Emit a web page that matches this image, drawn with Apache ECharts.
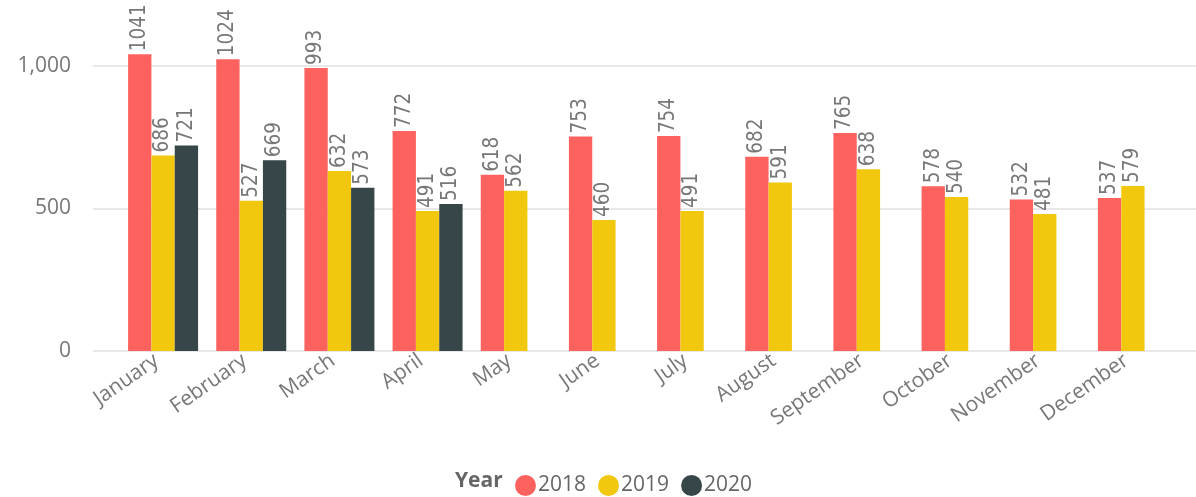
<!DOCTYPE html>
<html>
<head>
<meta charset="utf-8">
<script src="https://cdn.jsdelivr.net/npm/echarts@6/dist/echarts.min.js"></script>
<style>html,body{margin:0;padding:0;background:#fff;}#c{width:1196px;height:497px;}</style>
</head>
<body>
<div id="c"></div>
<script>
const categories = ['January','February','March','April','May','June','July','August','September','October','November','December'];
const years = ['2018','2019','2020'];
const values2018 = [1041,1024,993,772,618,753,754,682,765,578,532,537];
const values2019 = [686,527,632,491,562,460,491,591,638,540,481,579];
const values2020 = [721,669,573,516,null,null,null,null,null,null,null,null];
const yTicks = [0, 500, 1000];
const colors = ['#FD625E','#F2C80F','#374649'];

const chart = echarts.init(document.getElementById('c'), null, {renderer:'canvas'});
const font = '"Open Sans", "Noto Sans", sans-serif';
const labelFont = '"Liberation Sans Narrow", "DejaVu Sans Condensed", sans-serif';
const yMax = 351 / 0.285;

function mkSeries(name, data, idx){
  return {
    name: name, type: 'bar', data: data, xAxisIndex: 0, yAxisIndex: 0,
    barGap: '0%', barCategoryGap: '20.6%',
    itemStyle: {color: colors[idx]},
    label: {
      show: true, position: 'top', rotate: 90, align: 'left', verticalAlign: 'middle',
      distance: 3, color: '#777', fontFamily: labelFont, fontSize: 20.5
    }
  };
}

chart.setOption({
  animation: false,
  color: colors,
  grid: [
    {left: 119, right: 19, top: 0, bottom: 146},
    {left: 93, right: 0, top: 0, bottom: 146}
  ],
  title: {text: 'Year', left: 450, top: 466, textStyle: {fontFamily: font, fontSize: 21, fontWeight: 'bold', color: '#666'}},
  legend: {
    data: years, left: 510, top: 470, icon: 'circle', itemWidth: 21, itemHeight: 21, itemGap: 12,
    textStyle: {fontFamily: font, fontSize: 21, color: '#666', padding: [0,0,0,-3]}
  },
  xAxis: [
    {type: 'category', data: categories, gridIndex: 0,
     axisLine: {show: false}, axisTick: {show: false},
     axisLabel: {rotate: 35, margin: 3, interval: 0, fontFamily: font, fontSize: 21, color: '#777', padding: [0, 8, 0, 0]}},
    {type: 'category', data: categories, gridIndex: 1, show: false}
  ],
  yAxis: [
    {type: 'value', gridIndex: 0, min: 0, max: yMax, interval: 500, show: false, splitLine: {show: false}},
    {type: 'value', gridIndex: 1, min: 0, max: yMax, interval: 500,
     axisLine: {show: false}, axisTick: {show: false},
     axisLabel: {margin: 22, fontFamily: font, fontSize: 21, color: '#777',
       showMaxLabel: false,
       formatter: function(v){ return yTicks.indexOf(v) >= 0 ? v.toLocaleString('en-US') : ''; }},
     splitLine: {showMaxLine: false, lineStyle: {color: '#e8e8e8', width: 2}}}
  ],
  series: [
    mkSeries('2018', values2018, 0),
    mkSeries('2019', values2019, 1),
    mkSeries('2020', values2020, 2)
  ]
});
</script>
</body>
</html>
